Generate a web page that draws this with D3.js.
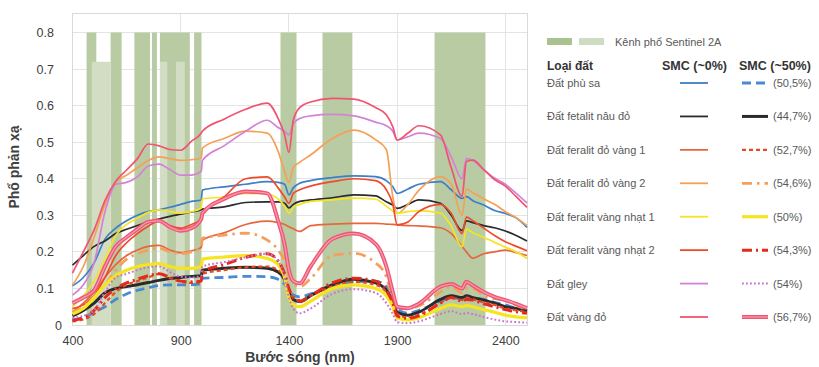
<!DOCTYPE html>
<html>
<head>
<meta charset="utf-8">
<script src="https://cdn.jsdelivr.net/npm/d3@7"></script>
<style>
body{margin:0;background:#fff}
svg{display:block}
</style>
</head>
<body>
<svg id="chart" width="819" height="367"></svg>
<script>
//---wavelength grid (nm), shared by every spectrum---
var wavelengths=[400,450,500,550,600,650,700,750,800,850,900,950,995,1000,1100,1200,1300,1350,1380,1400,1420,1450,1500,1600,1700,1800,1850,1880,1900,1950,2000,2100,2150,2200,2220,2250,2300,2350,2400,2450,2500]

//---SMC ~0%---
var phuSa0=[.107,.13,.17,.235,.265,.285,.3,.31,.315,.322,.33,.338,.342,.369,.378,.385,.392,.39,.385,.356,.375,.388,.395,.403,.408,.406,.395,.378,.36,.372,.385,.392,.37,.346,.351,.34,.328,.313,.305,.293,.267]
var nauDo0=[.164,.19,.215,.23,.25,.262,.272,.282,.29,.297,.303,.309,.315,.317,.323,.335,.337,.337,.333,.32,.33,.338,.342,.348,.356,.353,.337,.328,.319,.33,.342,.333,.3,.258,.285,.28,.272,.266,.257,.245,.23]
var doVang1_0=[.036,.06,.09,.13,.165,.19,.205,.215,.218,.205,.198,.203,.212,.232,.252,.275,.284,.28,.275,.269,.263,.256,.272,.276,.278,.278,.276,.275,.274,.272,.271,.266,.25,.215,.2,.183,.195,.2,.205,.198,.19]
var doVang2_0=[.109,.16,.24,.33,.39,.41,.43,.45,.46,.455,.45,.452,.456,.484,.51,.53,.525,.475,.42,.39,.43,.445,.465,.51,.533,.507,.48,.35,.305,.33,.368,.406,.385,.3,.372,.362,.345,.33,.31,.293,.272]
var vangNhat1_0=[.05,.08,.12,.18,.245,.275,.292,.308,.315,.31,.306,.31,.32,.345,.35,.36,.358,.345,.325,.306,.322,.33,.338,.342,.347,.344,.325,.312,.306,.31,.313,.306,.27,.214,.262,.252,.24,.226,.213,.2,.182]
var vangNhat2_0=[.045,.055,.08,.13,.19,.225,.25,.27,.285,.272,.265,.275,.29,.305,.35,.4,.405,.375,.35,.333,.36,.37,.38,.392,.4,.395,.37,.33,.274,.282,.31,.33,.305,.25,.295,.285,.265,.245,.228,.215,.203]
var gley0=[.082,.11,.17,.31,.385,.39,.405,.435,.44,.425,.41,.41,.42,.45,.49,.53,.56,.54,.53,.52,.55,.565,.572,.576,.572,.555,.545,.53,.506,.515,.525,.51,.46,.4,.455,.45,.425,.402,.385,.36,.334]
var vangDo0=[.142,.2,.26,.34,.393,.424,.455,.495,.49,.48,.478,.503,.525,.53,.563,.59,.607,.565,.52,.472,.56,.595,.61,.62,.618,.595,.575,.542,.506,.525,.545,.52,.43,.352,.447,.451,.425,.398,.38,.351,.322]

//---SMC ~50%---
var phuSa50=[.015,.02,.035,.05,.07,.085,.095,.102,.108,.11,.11,.11,.113,.128,.13,.133,.132,.125,.112,.095,.082,.077,.085,.105,.118,.12,.105,.08,.045,.032,.04,.065,.075,.072,.078,.075,.07,.062,.055,.045,.037]
var nauDo50=[.025,.04,.06,.088,.1,.105,.11,.116,.122,.127,.13,.133,.135,.15,.155,.158,.155,.145,.125,.09,.07,.064,.08,.11,.125,.115,.095,.065,.035,.027,.035,.07,.08,.075,.08,.075,.068,.06,.05,.045,.04]
var doVang1_50=[.01,.015,.03,.06,.09,.11,.12,.13,.14,.128,.118,.115,.118,.14,.15,.158,.16,.15,.13,.095,.075,.068,.08,.105,.118,.11,.09,.06,.03,.02,.028,.06,.075,.068,.075,.07,.062,.055,.045,.04,.035]
var doVang2_50=[.035,.05,.075,.11,.15,.18,.195,.205,.21,.2,.195,.2,.212,.237,.246,.251,.232,.205,.175,.135,.115,.105,.127,.19,.196,.17,.132,.07,.05,.045,.052,.09,.105,.088,.1,.1,.08,.072,.068,.055,.041]
var vangNhat1_50=[.03,.045,.075,.11,.135,.15,.16,.165,.168,.16,.155,.155,.16,.18,.186,.19,.182,.165,.13,.075,.055,.05,.065,.1,.11,.1,.08,.05,.02,.014,.02,.045,.055,.05,.053,.05,.042,.035,.027,.022,.02]
var vangNhat2_50=[.012,.02,.04,.075,.1,.115,.125,.135,.14,.13,.12,.118,.12,.145,.165,.185,.195,.175,.14,.1,.075,.065,.08,.115,.128,.12,.095,.06,.025,.018,.025,.06,.075,.065,.07,.068,.058,.05,.042,.036,.032]
var gley50=[.02,.025,.04,.09,.13,.14,.15,.158,.16,.145,.132,.13,.135,.16,.172,.185,.195,.175,.13,.075,.045,.032,.045,.085,.098,.088,.06,.03,.008,.005,.01,.03,.038,.03,.033,.03,.022,.015,.01,.008,.006]
var vangDo50=[.06,.075,.095,.16,.215,.24,.262,.282,.285,.268,.258,.265,.29,.305,.345,.365,.36,.285,.22,.15,.12,.114,.16,.235,.25,.222,.16,.09,.05,.046,.058,.105,.112,.1,.118,.108,.09,.077,.068,.058,.046]

//---Sentinel 2A bands (nm)---
var bandsDark=[[465,510],[576,627],[686,758],[767,790],[804,942],[962,996],[1361,1435],[1555,1693],[2073,2308]]
var bandsLight=[[489,576],[804,838],[878,919]]
var bandsLightTop=0.72

var soilNames=["Đất phù sa","Đất fetalit nâu đỏ","Đất feralit đỏ vàng 1","Đất feralit đỏ vàng 2","Đất feralit vàng nhạt 1","Đất feralit vàng nhạt 2","Đất gley","Đất vàng đỏ"]
var moistLabels=["(50,5%)","(44,7%)","(52,7%)","(54,6%)","(50%)","(54,3%)","(54%)","(56,7%)"]
var yTicks=[0,0.1,0.2,0.3,0.4,0.5,0.6,0.7,0.8]
var xTicks=[400,900,1400,1900,2400]

var dry=[phuSa0,nauDo0,doVang1_0,doVang2_0,vangNhat1_0,vangNhat2_0,gley0,vangDo0]
var wet=[phuSa50,nauDo50,doVang1_50,doVang2_50,vangNhat1_50,vangNhat2_50,gley50,vangDo50]

//---styles---
var dryColors=["#3d7fc8","#2b2b2b","#e8663d","#f5a055","#f4e424","#ee4a2c","#d283d6","#f05470"]
var wetColors=["#4a8ad0","#2b2b2b","#e64a25","#f4a05c","#f6e41e","#e42a1c","#c873d0","#ef5572"]
var wetDash=["9,5",null,"4,3","10,5,2.5,5",null,"10,4,2,4","1.8,2.2",null]
var wetWidth=[2.8,3,2.2,2.8,3.2,3,2,4]
var fontFam="'Liberation Sans', Arial, sans-serif"

var svg=d3.select("#chart")

var xScale=d3.scaleLinear().domain([400,2500]).range([72.5,527])
var yScale=d3.scaleLinear().domain([0,0.8]).range([325,32.5])
var plotTop=13

var plotG=svg.append("g")

//---gridlines---
plotG.append("g")
  .selectAll("line").data(yTicks).enter().append("line")
  .attr("x1",xScale(400)).attr("x2",xScale(2500))
  .attr("y1",function(d){return yScale(d)}).attr("y2",function(d){return yScale(d)})
  .attr("stroke","#e4e4e4").attr("stroke-width",1)
  .attr("shape-rendering","crispEdges")

plotG.append("g")
  .selectAll("line").data(xTicks).enter().append("line")
  .attr("x1",function(d){return xScale(d)}).attr("x2",function(d){return xScale(d)})
  .attr("y1",plotTop).attr("y2",yScale(0))
  .attr("stroke","#e4e4e4").attr("stroke-width",1)
  .attr("shape-rendering","crispEdges")

//---sentinel bands---
plotG.append("g")
  .selectAll("rect").data(bandsDark).enter().append("rect")
  .attr("x",function(d){return xScale(d[0])})
  .attr("width",function(d){return xScale(d[1])-xScale(d[0])})
  .attr("y",yScale(0.8))
  .attr("height",yScale(0)-yScale(0.8))
  .attr("fill","#b8cba3")

plotG.append("g")
  .selectAll("rect").data(bandsLight).enter().append("rect")
  .attr("x",function(d){return xScale(d[0])})
  .attr("width",function(d){return xScale(d[1])-xScale(d[0])})
  .attr("y",yScale(bandsLightTop))
  .attr("height",yScale(0)-yScale(bandsLightTop))
  .attr("fill","#d2ddc4")

//---frame---
plotG.append("rect")
  .attr("x",xScale(400)).attr("y",plotTop)
  .attr("width",xScale(2500)-xScale(400))
  .attr("height",yScale(0)-plotTop)
  .attr("fill","none").attr("stroke","#d9d9d9")
  .attr("shape-rendering","crispEdges")

//---curves---
var line=d3.line()
  .x(function(d,i){return xScale(wavelengths[i])})
  .y(function(d){return yScale(d)})
  .curve(d3.curveMonotoneX)

var curveG=plotG.append("g").attr("fill","none")

for(var k=0;k<dry.length;k++)
{
  curveG.append("path")
    .datum(dry[k])
    .attr("d",line)
    .attr("stroke",dryColors[k])
    .attr("stroke-width",1.7)
}
for(var k=0;k<wet.length;k++)
{
  curveG.append("path")
    .datum(wet[k])
    .attr("d",line)
    .attr("stroke",wetColors[k])
    .attr("stroke-width",wetWidth[k])
    .attr("stroke-dasharray",wetDash[k])
  if(k==7)
    curveG.append("path")
      .datum(wet[k])
      .attr("d",line)
      .attr("stroke","#f79aae")
      .attr("stroke-width",1.3)
}

//---axes---
var yAxisG=svg.append("g")
  .attr("transform","translate(54,0)")
  .call(d3.axisLeft(yScale).tickValues(yTicks).tickSize(0).tickPadding(0)
    .tickFormat(function(d){return d==0?"0":d3.format(".1f")(d)}))
yAxisG.select(".domain").remove()
yAxisG.selectAll("text")
  .attr("font-family",fontFam).attr("font-size","12.5px").attr("fill","#404040")
  .attr("x",function(d){return d==0?8:0})

var xAxisG=svg.append("g")
  .attr("transform","translate(0,336)")
  .call(d3.axisBottom(xScale).tickValues(xTicks).tickSize(0).tickPadding(0)
    .tickFormat(d3.format("d")))
xAxisG.select(".domain").remove()
xAxisG.selectAll("text")
  .attr("font-family",fontFam).attr("font-size","12.5px").attr("fill","#404040")

svg.append("text")
  .attr("transform","translate(19 167)rotate(-90)")
  .attr("text-anchor","middle")
  .attr("font-family",fontFam).attr("font-size","14px").attr("font-weight","bold")
  .attr("fill","#404040")
  .text("Phổ phản xạ")

svg.append("text")
  .attr("x",300).attr("y",362)
  .attr("text-anchor","middle")
  .attr("font-family",fontFam).attr("font-size","14px").attr("font-weight","bold")
  .attr("fill","#404040")
  .text("Bước sóng (nm)")

//---legend---
var legG=svg.append("g").attr("font-family",fontFam)

legG.append("rect").attr("x",547).attr("y",38).attr("width",25).attr("height",7).attr("fill","#a9c28f")
legG.append("rect").attr("x",579).attr("y",38).attr("width",25).attr("height",7).attr("fill","#cfdcc2")
legG.append("text").attr("x",615).attr("y",46).attr("font-size","11px").attr("fill","#595959")
  .text("Kênh phổ Sentinel 2A")

legG.append("text").attr("x",547).attr("y",70).attr("font-size","12px").attr("font-weight","bold").attr("fill","#333")
  .text("Loại đất")
legG.append("text").attr("x",662).attr("y",70).attr("font-size","12.5px").attr("font-weight","bold").attr("fill","#333")
  .text("SMC (~0%)")
legG.append("text").attr("x",739).attr("y",70).attr("font-size","12.5px").attr("font-weight","bold").attr("fill","#333")
  .text("SMC (~50%)")

var rowY=d3.scalePoint().domain(d3.range(soilNames.length)).range([83,317])

for(var k=0;k<soilNames.length;k++)
{
  var ry=rowY(k)
  legG.append("text").attr("x",547).attr("y",ry+4).attr("font-size","11px").attr("fill","#595959")
    .text(soilNames[k])
  legG.append("line").attr("x1",680).attr("x2",708).attr("y1",ry).attr("y2",ry)
    .attr("stroke",dryColors[k]).attr("stroke-width",1.8)
  legG.append("line").attr("x1",742).attr("x2",768).attr("y1",ry).attr("y2",ry)
    .attr("stroke",wetColors[k]).attr("stroke-width",wetWidth[k])
    .attr("stroke-dasharray",wetDash[k])
  if(k==7)
    legG.append("line").attr("x1",742).attr("x2",768).attr("y1",ry).attr("y2",ry)
      .attr("stroke","#f79aae").attr("stroke-width",1.3)
  legG.append("text").attr("x",773).attr("y",ry+4).attr("font-size","11px").attr("fill","#595959")
    .text(moistLabels[k])
}
</script>
</body>
</html>
